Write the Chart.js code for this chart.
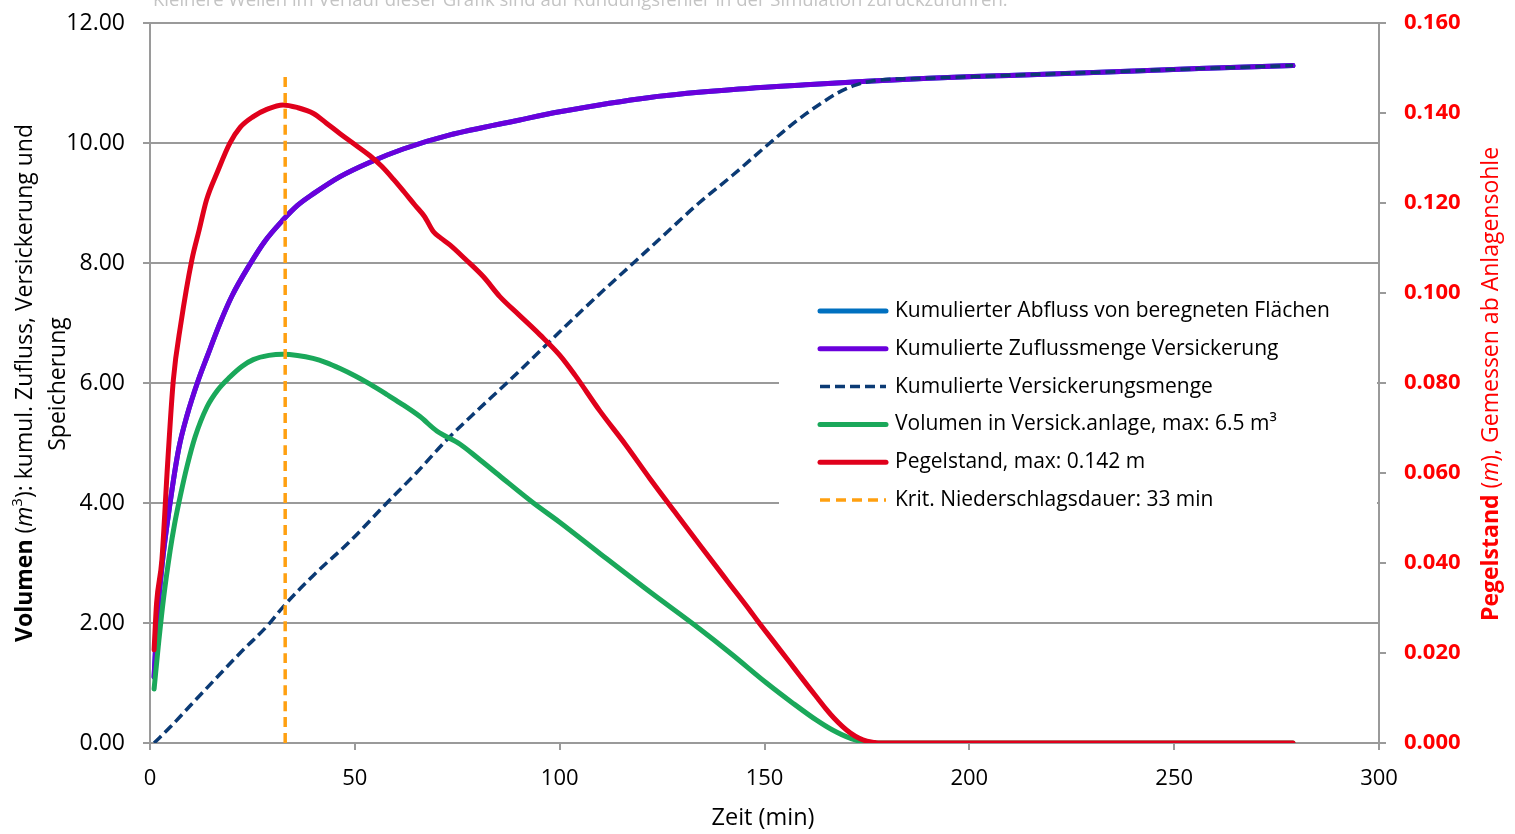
<!DOCTYPE html>
<html>
<head>
<meta charset="utf-8">
<script src="https://cdn.jsdelivr.net/npm/chart.js@4.4.1/dist/chart.umd.min.js"></script>
<style>
  html, body { margin: 0; padding: 0; background: #fff; }
</style>
</head>
<body>
<canvas id="chart" width="1515" height="834"></canvas>
<script>
const FONT = "'Open Sans', sans-serif";

const seriesNames = [
  "Kumulierter Abfluss von beregneten Flächen",
  "Kumulierte Zuflussmenge Versickerung",
  "Kumulierte Versickerungsmenge",
  "Volumen in Versick.anlage, max: 6.5 m³",
  "Pegelstand, max: 0.142 m",
  "Krit. Niederschlagsdauer: 33 min",
];

// Zeit (min) und kumulierter Zufluss (m3)
const zeitZufluss = [1, 1.7, 3, 4.9, 7, 9, 11.8, 14, 17.1, 20, 24.4, 28, 32.5, 36, 40, 46.4, 53.7, 61.8, 73, 90, 100, 122, 146, 160, 175, 190, 207, 232, 256, 279];
const zufluss = [1.1, 2.0, 3.0, 4.0, 4.9, 5.45, 6.05, 6.45, 7.0, 7.45, 7.98, 8.36, 8.72, 8.96, 9.16, 9.44, 9.68, 9.9, 10.13, 10.38, 10.52, 10.76, 10.91, 10.97, 11.03, 11.08, 11.12, 11.18, 11.24, 11.29];

// kumulierte Versickerungsmenge (m3)
const zeitVersickerung = [1, 5, 9.8, 16, 22, 29, 32.5, 40, 48.8, 57.8, 65, 72.4, 80, 87.1, 95, 103, 110, 118, 126, 134, 142, 151.3, 156, 160, 164, 168, 172, 176, 190, 207, 232, 256, 279];
const versickerung = [0.0, 0.27, 0.62, 1.07, 1.5, 1.98, 2.27, 2.8, 3.36, 4.0, 4.5, 5.05, 5.55, 6.0, 6.52, 7.05, 7.5, 8.0, 8.5, 9.0, 9.45, 10.0, 10.27, 10.48, 10.67, 10.84, 10.96, 11.03, 11.08, 11.12, 11.18, 11.24, 11.29];

// Volumen in der Anlage (m3)
const zeitVolumen = [1, 2, 3.25, 4.9, 6, 7.5, 9, 11, 13.9, 16.5, 19.5, 22.5, 25.2, 29, 32.5, 36, 39.8, 43, 46.4, 50, 53.7, 58, 61, 65.9, 70, 75.7, 80, 85.4, 93.6, 100, 109.8, 122, 134.2, 142, 150.5, 157, 162.7, 166.5, 170.9, 175.7, 180, 279];
const volumen = [0.9, 1.6, 2.38, 3.2, 3.65, 4.15, 4.6, 5.1, 5.6, 5.88, 6.1, 6.28, 6.39, 6.46, 6.48, 6.46, 6.41, 6.34, 6.24, 6.12, 5.98, 5.8, 5.67, 5.44, 5.2, 4.98, 4.75, 4.45, 4.0, 3.68, 3.16, 2.52, 1.9, 1.48, 1.0, 0.66, 0.38, 0.22, 0.08, 0, 0, 0];

// Pegelstand (m), rechte Achse
const zeitPegel = [1, 1.6, 2.9, 4.3, 5.7, 7.5, 10.2, 12, 13.8, 16.5, 19.5, 22, 25.2, 28.5, 32.5, 36, 39.9, 43, 46.4, 50, 53.7, 56.5, 59.4, 62, 64.7, 67, 69.2, 71, 73.2, 77, 81.4, 85.4, 90, 95.2, 100, 103.7, 109.8, 116, 122, 128, 134.2, 141, 146.4, 148.1, 152, 156, 158.7, 161, 163, 165, 167, 169, 171, 173, 175, 177, 178.2, 279];
const pegel = [0.0207, 0.031, 0.0407, 0.062, 0.0807, 0.093, 0.1073, 0.114, 0.1207, 0.127, 0.1333, 0.1368, 0.1392, 0.1408, 0.1418, 0.1412, 0.1399, 0.1378, 0.1354, 0.133, 0.1305, 0.1282, 0.1253, 0.1225, 0.1195, 0.117, 0.1136, 0.1122, 0.1107, 0.1075, 0.1036, 0.0992, 0.0952, 0.0907, 0.0862, 0.0818, 0.0738, 0.0664, 0.0588, 0.0515, 0.044, 0.0359, 0.0295, 0.0274, 0.0228, 0.0181, 0.0149, 0.0122, 0.0099, 0.0076, 0.0055, 0.0037, 0.0022, 0.0011, 0.0004, 0.0001, 0, 0];

// kritische Niederschlagsdauer
const zeitKrit = [33, 33];
const krit = [0, 11.1];

const xTicks = [0, 50, 100, 150, 200, 250, 300];

const colors = ["#0070c0", "#6a00dc", "#0b3a74", "#1aa85a", "#e0001b", "#ffa010"];
const dashes = [[], [], [10, 5], [], [], [10, 6]];

const toPoints = (xs, ys) => xs.map((x, i) => ({ x: x, y: ys[i] }));

const drawRich = (ctx, parts, size) => {
  let total = 0;
  parts.forEach((p) => {
    const s = p.sup ? size * 0.65 : size;
    p.font = (p.italic ? "italic " : "") + (p.bold ? "bold " : "") + s + "px " + FONT;
    ctx.font = p.font;
    p.w = ctx.measureText(p.text).width;
    total += p.w;
  });
  let x = -total / 2;
  parts.forEach((p) => {
    ctx.font = p.font;
    ctx.fillText(p.text, x, p.sup ? -size * 0.3 : 0);
    x += p.w;
  });
};

const extras = {
  id: "extras",
  afterDraw(chart) {
    const ctx = chart.ctx;
    ctx.save();

    // Hinweis oben (angeschnitten)
    ctx.fillStyle = "#c4c4c4";
    ctx.font = "18.5px " + FONT;
    ctx.textAlign = "left";
    ctx.textBaseline = "alphabetic";
    ctx.fillText("Kleinere Wellen im Verlauf dieser Grafik sind auf Rundungsfehler in der Simulation zurückzuführen.", 153, 6);

    // Legende
    ctx.fillStyle = "#fff";
    ctx.fillRect(779, 288, 598, 234);
    ctx.textBaseline = "middle";
    ctx.font = "21px " + FONT;
    seriesNames.forEach((name, i) => {
      const y = 311 + i * 37.8;
      ctx.beginPath();
      ctx.strokeStyle = colors[i];
      ctx.lineWidth = dashes[i].length ? 3.5 : 5;
      ctx.lineCap = dashes[i].length ? "butt" : "round";
      ctx.setLineDash(dashes[i]);
      ctx.moveTo(820, y);
      ctx.lineTo(886, y);
      ctx.stroke();
      ctx.setLineDash([]);
      ctx.fillStyle = "#000";
      ctx.fillText(name, 895, y);
    });

    // Achsentitel links
    ctx.textBaseline = "middle";
    ctx.fillStyle = "#000";
    ctx.save();
    ctx.translate(25, 383);
    ctx.rotate(-Math.PI / 2);
    drawRich(ctx, [
      { text: "Volumen", bold: true },
      { text: " (" },
      { text: "m", italic: true },
      { text: "3", sup: true },
      { text: "): kumul. Zufluss, Versickerung und" },
    ], 23);
    ctx.restore();
    ctx.save();
    ctx.translate(58, 384);
    ctx.rotate(-Math.PI / 2);
    drawRich(ctx, [{ text: "Speicherung" }], 23);
    ctx.restore();

    // Achsentitel rechts
    ctx.fillStyle = "#ff0000";
    ctx.save();
    ctx.translate(1491, 384);
    ctx.rotate(-Math.PI / 2);
    drawRich(ctx, [
      { text: "Pegelstand", bold: true },
      { text: " (" },
      { text: "m", italic: true },
      { text: "), Gemessen ab Anlagensohle" },
    ], 23);
    ctx.restore();

    // Achsentitel unten
    ctx.fillStyle = "#000";
    ctx.textAlign = "center";
    ctx.font = "23.5px " + FONT;
    ctx.fillText("Zeit (min)", 763, 818);

    ctx.restore();
  },
};

const lineSet = (i, xs, ys, axis, order) => ({
  label: seriesNames[i],
  data: toPoints(xs, ys),
  borderColor: colors[i],
  backgroundColor: colors[i],
  borderWidth: dashes[i].length ? 3.5 : 5,
  borderDash: dashes[i],
  borderCapStyle: dashes[i].length ? "butt" : "round",
  pointRadius: 0,
  cubicInterpolationMode: "monotone",
  yAxisID: axis,
  order: order,
});

// keep the plot area where the reference has it
const fixVertical = (width) => (axis) => {
  axis.width = width;
  axis.paddingTop = 0;
  axis.paddingBottom = 0;
};

const chart = new Chart(document.getElementById("chart"), {
  type: "line",
  data: {
    datasets: [
      lineSet(0, zeitZufluss, zufluss, "y", 5),
      lineSet(1, zeitZufluss, zufluss, "y", 4),
      lineSet(2, zeitVersickerung, versickerung, "y", 3),
      lineSet(3, zeitVolumen, volumen, "y", 2),
      lineSet(4, zeitPegel, pegel, "y1", 1),
      lineSet(5, zeitKrit, krit, "y", 0),
    ],
  },
  options: {
    responsive: false,
    animation: false,
    devicePixelRatio: 1,
    layout: { padding: { top: 23, left: 0, right: 0, bottom: 0 } },
    plugins: { legend: { display: false }, tooltip: { enabled: false } },
    scales: {
      x: {
        type: "linear",
        min: 0,
        max: 300,
        afterBuildTicks: (axis) => { axis.ticks = xTicks.map((v) => ({ value: v })); },
        ticks: { color: "#000", font: { family: FONT, size: 22 }, padding: 16, maxRotation: 0 },
        grid: { drawOnChartArea: false, drawTicks: true, tickLength: 7, color: "#9a9a9a", lineWidth: 2 },
        border: { display: true, color: "#9a9a9a", width: 2 },
        afterFit: (axis) => { axis.height = 91; },
      },
      y: {
        position: "left",
        min: 0,
        max: 12,
        ticks: { stepSize: 2, color: "#000", font: { family: FONT, size: 23 }, padding: 18, callback: (v) => v.toFixed(2) },
        grid: { color: "#9a9a9a", lineWidth: 2, tickLength: 7 },
        border: { display: true, color: "#9a9a9a", width: 2 },
        afterFit: fixVertical(150),
      },
      y1: {
        position: "right",
        min: 0,
        max: 0.16,
        ticks: { stepSize: 0.02, color: "#ff0000", font: { family: FONT, size: 22, weight: "bold" }, padding: 18, callback: (v) => v.toFixed(3) },
        grid: { drawOnChartArea: false, tickLength: 7, color: "#9a9a9a", lineWidth: 2 },
        border: { display: true, color: "#9a9a9a", width: 2 },
        afterFit: fixVertical(136),
      },
    },
  },
  plugins: [extras],
});
</script>
</body>
</html>
